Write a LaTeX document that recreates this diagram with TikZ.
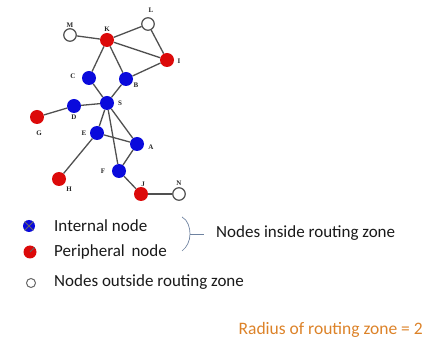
\documentclass[tikz,border=0pt]{standalone}
\usepackage{fontspec}
\setmainfont{Carlito}
\newfontfamily\lblfont{Liberation Serif}
\begin{document}
\begin{tikzpicture}[x=1pt,y=-1pt,
  every node/.style={inner sep=0pt},
  internal/.style={circle,fill=intblue,minimum size=14pt},
  peripheral/.style={circle,fill=perred,minimum size=14pt},
  outside/.style={circle,draw=outgray,line width=1.2pt,fill=white,minimum size=12.5pt},
  lbl/.style={font=\lblfont\bfseries\fontsize{7}{8}\selectfont,text=black!85},
  edge/.style={draw=edgegray,line width=1.3pt},
  legtext/.style={font=\fontsize{17}{19}\selectfont,text=black!90,anchor=west}]
\definecolor{intblue}{RGB}{10,10,220}
\definecolor{perred}{RGB}{220,10,10}
\definecolor{outgray}{RGB}{80,80,80}
\definecolor{edgegray}{RGB}{80,80,80}
\definecolor{bracecol}{RGB}{110,130,160}
\definecolor{orangetxt}{RGB}{220,130,40}
\useasboundingbox (0,0) rectangle (431,347);
% graph nodes
\node[outside] (M) at (70,35) {};
\node[peripheral] (K) at (107,40) {};
\node[outside] (L) at (148,24) {};
\node[peripheral] (I) at (167,60) {};
\node[internal] (C) at (89,78) {};
\node[internal] (B) at (126,79) {};
\node[internal] (S) at (107,103) {};
\node[internal] (D) at (74,106) {};
\node[peripheral] (G) at (37,117) {};
\node[internal] (E) at (97,133) {};
\node[internal] (A) at (137,144) {};
\node[internal] (F) at (119,171) {};
\node[peripheral] (H) at (59,179) {};
\node[peripheral] (J) at (141,194) {};
\node[outside] (N) at (179,194) {};
% edges
\path[edge] (M) -- (K);
\path[edge] (K) -- (L);
\path[edge] (K) -- (I);
\path[edge] (L) -- (I);
\path[edge] (K) -- (C);
\path[edge] (K) -- (B);
\path[edge] (B) -- (I);
\path[edge] (C) -- (S);
\path[edge] (B) -- (S);
\path[edge] (D) -- (S);
\path[edge] (G) -- (D);
\path[edge] (S) -- (E);
\path[edge] (S) -- (A);
\path[edge] (S) -- (F);
\path[edge] (E) -- (A);
\path[edge] (E) -- (H);
\path[edge] (A) -- (F);
\path[edge] (F) -- (J);
\path[edge] (J) -- (N);
% labels
\node[lbl] (lM) at (70,25) {M};
\node[lbl] (lK) at (107,29) {K};
\node[lbl] (lL) at (151,10) {L};
\node[lbl] (lI) at (179,61) {I};
\node[lbl] (lC) at (73,76) {C};
\node[lbl] (lB) at (136,85) {B};
\node[lbl] (lS) at (120,103) {S};
\node[lbl] (lD) at (74,117) {D};
\node[lbl] (lG) at (39,133) {G};
\node[lbl] (lE) at (84,133) {E};
\node[lbl] (lA) at (151,147) {A};
\node[lbl] (lF) at (103,171) {F};
\node[lbl] (lH) at (69,189) {H};
\node[lbl] (lJ) at (143,184) {J};
\node[lbl] (lN) at (179,183) {N};
% legend
\node[circle,fill=intblue,minimum size=12pt] (k1) at (29,226) {};
\draw[black!60,line width=0.9pt] (k1.north west) -- (k1.south east) (k1.north east) -- (k1.south west);
\node[circle,fill=perred,minimum size=13pt] (k2) at (30,252) {};
\draw[black!60,line width=0.9pt] (k2.center) -- (k2.north east);
\node[circle,draw=black!60,line width=1pt,minimum size=9pt] (k3) at (31,283) {};
\node[legtext] (t1) at (54,226) {Internal node};
\node[legtext] (t2) at (54,252) {Peripheral\, node};
\node[legtext] (t3) at (54,282) {Nodes outside routing zone};
\coordinate (b1) at (182,217);
\coordinate (b2) at (182,251);
\coordinate (bm) at (190,234);
\coordinate (bt) at (204,234);
\draw[bracecol,line width=0.7pt] (b1) .. controls (188,220) and (190,228) .. (bm) .. controls (190,241) and (187,247) .. (b2);
\draw[bracecol,line width=0.7pt] (bm) -- (bt);
\node[legtext] (t4) at (216,233) {Nodes inside routing zone};
\node[font=\fontsize{17.5}{20}\selectfont,text=orangetxt,anchor=east] (t5) at (423,330) {Radius of routing zone = 2};
\end{tikzpicture}
\end{document}
